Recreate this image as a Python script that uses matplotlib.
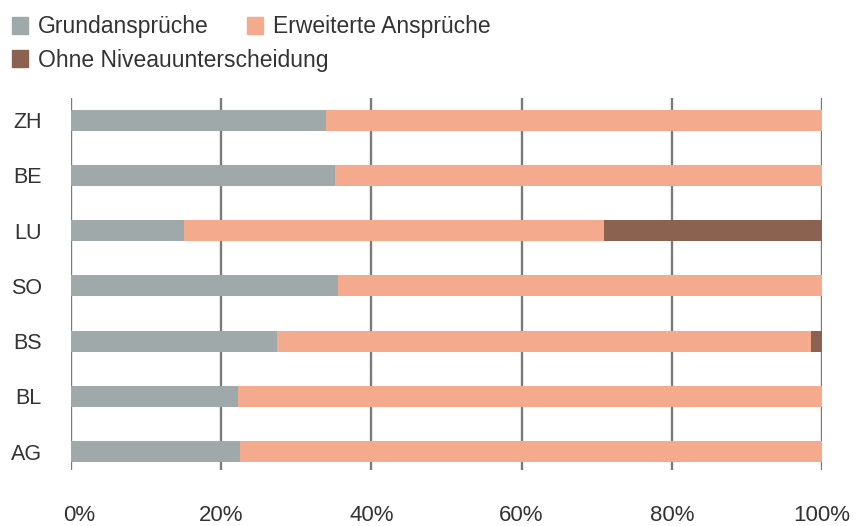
import matplotlib
matplotlib.use("Agg")
from matplotlib import pyplot as plt
from matplotlib.patches import Patch
from matplotlib.transforms import ScaledTranslation

plt.rcParams['font.family'] = ['Liberation Sans', 'DejaVu Sans']

kantone = ['ZH', 'BE', 'LU', 'SO', 'BS', 'BL', 'AG']
grund = [34.0, 35.2, 15.1, 35.6, 27.4, 22.2, 22.5]
erweitert = [66.0, 64.8, 55.9, 64.4, 71.1, 77.8, 77.5]
ohne = [0.0, 0.0, 29.0, 0.0, 1.5, 0.0, 0.0]
xticks = [0, 20, 40, 60, 80, 100]

c_grund = '#9fa9a9'
c_erw = '#f4ab8d'
c_ohne = '#8b6150'
c_text = '#333333'

fig = plt.figure(figsize=(8.56, 5.26), dpi=100)
ax = fig.add_axes([71/856, 1-470/526, 751/856, 372/526])

y = range(len(kantone))
h = 0.38
ax.barh(y, grund, height=h, color=c_grund, zorder=3)
ax.barh(y, erweitert, left=grund, height=h, color=c_erw, zorder=3)
left3 = [g + e for g, e in zip(grund, erweitert)]
ax.barh(y, ohne, left=left3, height=h, color=c_ohne, zorder=3)

ax.set_xlim(0, 100)
ax.set_ylim(6.33, -0.4)
ax.set_yticks(list(y))
ax.set_yticklabels(kantone, fontsize=15.5, color=c_text)
ax.set_xticks(xticks)
ax.set_xticklabels([f'{t}%' for t in xticks], fontsize=16, color=c_text)
ax.tick_params(axis='y', length=0, pad=21)
ax.tick_params(axis='x', length=0, pad=25)
# "0%" sits a little right of its gridline in the original
lab0 = ax.get_xticklabels()[0]
lab0.set_transform(lab0.get_transform() + ScaledTranslation(8/100, 0, fig.dpi_scale_trans))
for t in xticks:
    ax.axvline(t, color='#7a7a7a', lw=1.7, zorder=2)
for s in ax.spines.values():
    s.set_visible(False)

leg_kw = dict(frameon=False, fontsize=16.5, handlelength=0.7, handleheight=0.7,
              handletextpad=0.45, borderpad=0, borderaxespad=0, labelcolor=c_text,
              loc='center left')
leg1 = fig.legend(handles=[Patch(color=c_grund, label='Grundansprüche'),
                           Patch(color=c_erw, label='Erweiterte Ansprüche')],
                  ncol=2, columnspacing=1.65, bbox_to_anchor=(12/856, 1-27/526), **leg_kw)
leg2 = fig.legend(handles=[Patch(color=c_ohne, label='Ohne Niveauunterscheidung')],
                  bbox_to_anchor=(12/856, 1-60/526), **leg_kw)

fig.savefig('out.png', dpi=100, facecolor='white')
